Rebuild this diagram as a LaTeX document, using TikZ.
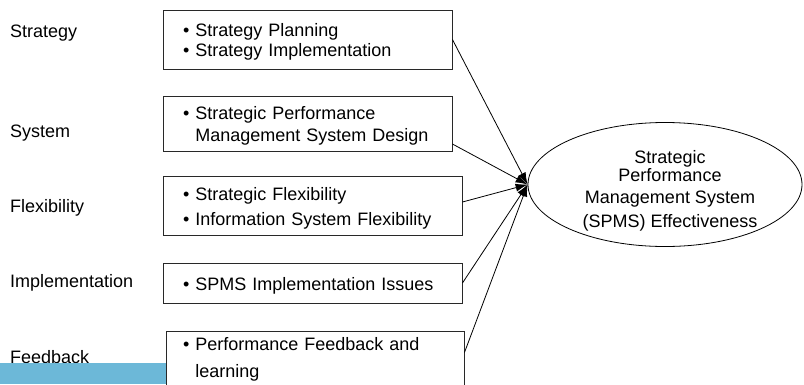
\documentclass[tikz,border=0pt]{standalone}
\usepackage{fontspec}
\setmainfont{Liberation Sans}
\usetikzlibrary{arrows.meta,shapes.geometric,calc}
\definecolor{bandblue}{RGB}{108,184,216}
\definecolor{boxline}{RGB}{40,40,40}
% taller first line, nudges box text slightly downward
\newcommand{\toproom}{\rule{0pt}{18pt}}
\begin{document}
\begin{tikzpicture}[x=1pt,y=-1pt,
  every node/.style={font=\fontsize{18}{20}\selectfont, inner sep=0pt},
  factor/.style={anchor=base west},
  itembox/.style={draw=boxline, line width=0.9pt, align=left, inner xsep=20pt,
    text width=#1},
  outcome/.style={ellipse, draw=black, line width=0.8pt, minimum width=274pt,
    minimum height=124pt},
  link/.style={draw=black, line width=0.8pt, -{Latex[length=12pt,width=8pt]}}
]
\useasboundingbox (0,0) rectangle (804,384);
\clip (0,0) rectangle (804,384);

% factor labels on the left
\node[factor] (lStrategy) at (10,37) {Strategy};
\node[factor] (lSystem) at (10,137) {System};
\node[factor] (lFlex) at (10,212) {Flexibility};
\node[factor] (lImpl) at (10,287) {Implementation};
\node[factor] (lFeed) at (10,363) {Feedback};

% coloured band along the lower left edge
\fill[bandblue] (0,363) rectangle (166,384);

% item boxes
\node[itembox=249pt, minimum height=59pt] (b1) at (307.5,39.5)
  {\toproom• Strategy Planning\\• Strategy Implementation};
\node[itembox=249pt, minimum height=55pt, font=\fontsize{18}{21.5}\selectfont] (b2) at (307.5,123.5)
  {\toproom• Strategic Performance\\\hphantom{• }Management System Design};
\node[itembox=259pt, minimum height=59pt, font=\fontsize{18}{25}\selectfont] (b3) at (312.5,205.5)
  {\toproom• Strategic Flexibility\\• Information System Flexibility};
\node[itembox=259pt, minimum height=40pt] (b4) at (312.5,283)
  {\toproom• SPMS Implementation Issues};
\node[itembox=264pt, inner xsep=17pt, minimum height=56pt, font=\fontsize{18}{27}\selectfont] (b5) at (315,359)
  {• Performance Feedback and\\\hphantom{• }learning};

% outcome
\node[outcome] (spms) at (665,184.5) {};
\node[align=center, font=\fontsize{18}{16.5}\selectfont] (spmsText) at (670,191)
  {Strategic\\Performance\\[6pt]Management System\\[6pt](SPMS) Effectiveness};

% links into the outcome
\draw[link] (b1.east) -- (spms.west);
\draw[link] ([yshift=-20.5pt]b2.east) -- (spms.west);
\draw[link] ([yshift=3.5pt]b3.east) -- (spms.west);
\draw[link] (b4.east) -- (spms.west);
\draw[link] ([yshift=-22pt]b5.north east) -- (spms.west);
\end{tikzpicture}
\end{document}
